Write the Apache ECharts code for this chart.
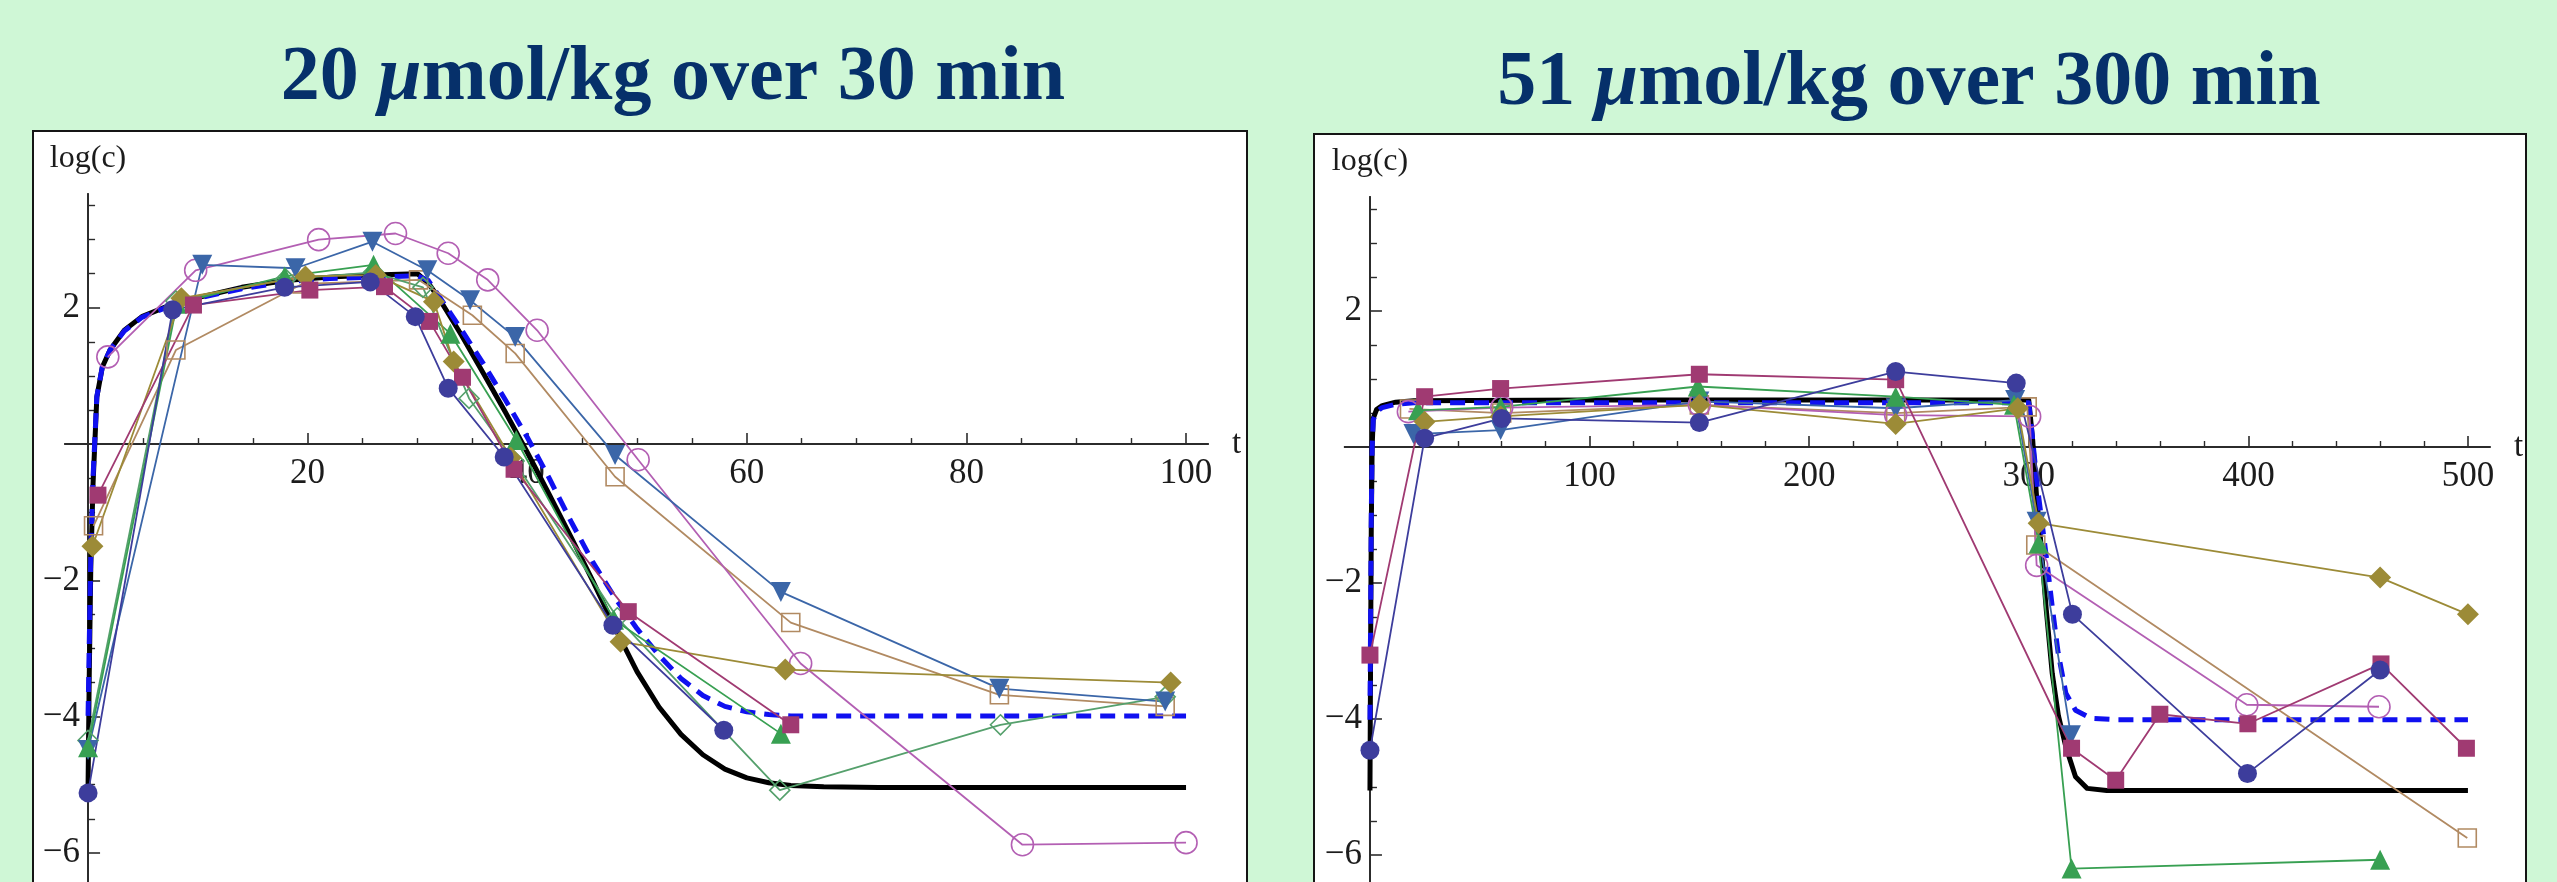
<!DOCTYPE html>
<html>
<head>
<meta charset="utf-8">
<script src="https://cdn.jsdelivr.net/npm/echarts@6/dist/echarts.min.js"></script>
<style>
html,body{margin:0;padding:0;background:#cff7d6;}
#c{width:2557px;height:882px;}
</style>
</head>
<body>
<div id="c"></div>
<script>
// ---------- titles / axis texts ----------
const leftTitle = ['20 ', 'μ', 'mol/kg over 30 min'];
const rightTitle = ['51 ', 'μ', 'mol/kg over 300 min'];
const yName = 'log(c)';
const xName = 't';

// ---------- ticks ----------
const yMajorTicks = [-6, -4, -2, 2];
const yMinorTicks = [-6.5, -5.5, -5, -4.5, -3.5, -3, -2.5, -1.5, -1, -0.5, 0.5, 1, 1.5, 2.5, 3, 3.5];
const leftXMajorTicks = [20, 40, 60, 80, 100];
const leftXMinorTicks = [5, 10, 15, 25, 30, 35, 45, 50, 55, 65, 70, 75, 85, 90, 95];
const rightXMajorTicks = [100, 200, 300, 400, 500];
const rightXMinorTicks = [20, 40, 60, 80, 120, 140, 160, 180, 220, 240, 260, 280, 320, 340, 360, 380, 420, 440, 460, 480];

// ---------- left panel data (t [min], log c) ----------
const L_filledCircle = [[0,-5.12],[7.7,1.97],[17.9,2.30],[25.7,2.38],[29.8,1.87],[32.8,0.82],[37.9,-0.19],[47.8,-2.66],[57.9,-4.20]];
const L_filledSquare = [[0.9,-0.75],[9.6,2.04],[20.2,2.26],[27.0,2.31],[31.1,1.80],[34.1,0.98],[38.8,-0.37],[49.2,-2.46],[64.0,-4.12]];
const L_filledDiamond = [[0.4,-1.5],[8.5,2.14],[19.8,2.46],[26.2,2.48],[31.5,2.09],[33.3,1.21],[38.5,-0.2],[48.5,-2.90],[63.5,-3.31],[98.6,-3.50]];
const L_triangleUp = [[0,-4.45],[8.1,2.06],[17.9,2.46],[26.0,2.63],[33.0,1.62],[39.0,0.06],[47.9,-2.58],[63.1,-4.25]];
const L_triangleDown = [[0,-4.49],[10.4,2.63],[18.9,2.58],[25.9,2.97],[30.9,2.55],[34.8,2.11],[38.9,1.57],[48.0,-0.16],[63.1,-2.17],[83.0,-3.59],[98.1,-3.78]];
const L_openCircle = [[1.8,1.28],[9.8,2.55],[21.0,3.00],[28.0,3.09],[32.8,2.80],[36.4,2.41],[40.9,1.67],[50.1,-0.23],[64.9,-3.22],[85.1,-5.88],[100.0,-5.85]];
const L_openSquare = [[0.5,-1.2],[8.0,1.38],[19.5,2.35],[30.1,2.41],[35.0,1.89],[38.9,1.33],[48.0,-0.48],[64.0,-2.62],[83.0,-3.68],[98.1,-3.85]];
const L_openDiamond = [[0,-4.35],[8.0,2.10],[18.0,2.42],[26.0,2.52],[30.5,2.30],[34.7,0.67],[38.8,-0.25],[48.2,-2.55],[63.0,-5.08],[83.1,-4.12],[98.1,-3.71]];
const L_modelSolid = [[0,-5.05],[0.1,-3.5],[0.25,-1.8],[0.45,-0.6],[0.8,0.69],[1.3,1.13],[2.0,1.38],[3.3,1.67],[4.9,1.87],[7.2,2.02],[10,2.15],[14,2.30],[18,2.40],[22,2.45],[26,2.48],[30,2.50],[31,2.36],[32,2.13],[34,1.60],[36,1.04],[38,0.47],[40,-0.12],[42,-0.74],[44,-1.37],[46,-2.02],[48,-2.70],[50,-3.34],[52,-3.86],[54,-4.26],[56,-4.56],[58,-4.77],[60,-4.90],[62,-4.97],[64,-5.01],[67,-5.03],[72,-5.04],[100,-5.04]];
const L_modelDashed = [[0,-3.99],[0.1,-3.0],[0.25,-1.6],[0.45,-0.5],[0.8,0.70],[1.3,1.13],[2.0,1.38],[3.3,1.66],[4.9,1.86],[7.2,2.01],[10,2.14],[14,2.28],[18,2.38],[22,2.43],[26,2.45],[30,2.47],[31,2.40],[32,2.16],[34,1.68],[36,1.18],[38,0.65],[40,0.10],[42,-0.50],[44,-1.14],[46,-1.74],[48,-2.26],[50,-2.71],[52,-3.10],[54,-3.44],[56,-3.69],[58,-3.85],[60,-3.93],[62,-3.97],[64,-3.99],[70,-3.99],[100,-3.99]];

// ---------- right panel data ----------
const R_filledCircle = [[0,-4.46],[24.9,0.13],[60,0.42],[150,0.36],[239.4,1.11],[294.3,0.94],[319.9,-2.46],[399.6,-4.80],[460,-3.28]];
const R_filledSquare = [[0,-3.06],[24.9,0.74],[59.5,0.86],[150,1.07],[239.4,0.99],[319.5,-4.43],[339.6,-4.90],[359.7,-3.93],[399.8,-4.07],[460.4,-3.19],[499.3,-4.43]];
const R_filledDiamond = [[24.9,0.37],[59.5,0.45],[150,0.62],[239.4,0.34],[295,0.57],[304.5,-1.12],[460,-1.92],[500,-2.46]];
const R_triangleUp = [[21.9,0.54],[59.5,0.59],[149.3,0.89],[239.4,0.74],[293.3,0.62],[304.5,-1.42],[319.5,-6.20],[460,-6.07]];
const R_triangleDown = [[19.8,0.19],[59.5,0.25],[150,0.67],[239.4,0.57],[293.8,0.69],[303.6,-1.10],[319.2,-4.24]];
const R_openCircle = [[17.5,0.52],[60,0.58],[150,0.62],[239.4,0.47],[300.4,0.45],[303.6,-1.74],[399.3,-3.79],[459.5,-3.82]];
const R_openSquare = [[18,0.56],[60,0.50],[150,0.62],[239.4,0.50],[299.3,0.59],[303.2,-1.44],[499.7,-5.75]];
const R_modelSolid = [[0,-5.05],[0.3,-3.0],[0.6,-1.2],[1.0,0.0],[1.5,0.42],[3,0.55],[5.6,0.61],[11.7,0.66],[20,0.68],[100,0.69],[200,0.69],[300,0.69],[301.8,0.10],[303.5,-0.70],[305.4,-1.37],[308,-2.40],[310.7,-3.33],[313.5,-3.95],[316.9,-4.41],[321.3,-4.85],[326.6,-5.02],[335.5,-5.05],[500,-5.05]];
const R_modelDashed = [[0,-4.01],[0.3,-2.5],[0.6,-1.0],[1.0,0.0],[1.5,0.40],[3,0.52],[5.6,0.58],[11.7,0.63],[20,0.65],[300,0.65],[301.5,0.20],[304,-0.60],[308,-1.61],[310.7,-2.35],[313.4,-3.03],[316.9,-3.62],[321.3,-3.87],[328.4,-3.99],[340,-4.01],[500,-4.01]];

// ---------- styling ----------
const FONT = '"Liberation Serif", "Times New Roman", serif';
const AX = '#2b2b2b';
const LBL = '#1c1c1c';
const C = {
  circle: '#3d3d9c', square: '#a03a72', diamond: '#9c8b37', triUp: '#38a052',
  triDown: '#3b66a8', oCircle: '#b35fb3', oSquare: '#b18a62', oDiamond: '#55a06c'
};
const fmt = v => (v < 0 ? '\u2212' + Math.abs(v) : String(v));

// axes that draw lines + ticks at the zero crossing
function xAxesLines(grid, min, max, major, minor, yIdx) {
  return [{
    type: 'value', gridIndex: grid, min: min, max: max, position: 'bottom',
    axisLine: { show: true, onZero: true, onZeroAxisIndex: yIdx, lineStyle: { color: AX, width: 1.8 } },
    axisTick: { show: true, inside: true, length: 11, customValues: major, lineStyle: { color: AX, width: 1.6 } },
    axisLabel: { show: false }, splitLine: { show: false },
    name: xName, nameLocation: 'end', nameGap: 24,
    nameTextStyle: { fontFamily: FONT, fontSize: 33, color: LBL }
  }, {
    type: 'value', gridIndex: grid, min: min, max: max, position: 'bottom',
    axisLine: { show: true, onZero: true, onZeroAxisIndex: yIdx, lineStyle: { color: AX, width: 1.8 } },
    axisTick: { show: true, inside: true, length: 6, customValues: minor, lineStyle: { color: AX, width: 1.4 } },
    axisLabel: { show: false }, splitLine: { show: false }
  }];
}
function yAxesLines(grid, min, max, xIdx) {
  return [{
    type: 'value', gridIndex: grid, min: min, max: max, position: 'left',
    axisLine: { show: true, onZero: true, onZeroAxisIndex: xIdx, lineStyle: { color: AX, width: 1.8 } },
    axisTick: { show: true, inside: true, length: 12, customValues: yMajorTicks, lineStyle: { color: AX, width: 1.6 } },
    axisLabel: { show: false }, splitLine: { show: false },
    name: yName, nameLocation: 'end', nameGap: 19,
    nameTextStyle: { fontFamily: FONT, fontSize: 32, color: LBL, align: 'center' }
  }, {
    type: 'value', gridIndex: grid, min: min, max: max, position: 'left',
    axisLine: { show: true, onZero: true, onZeroAxisIndex: xIdx, lineStyle: { color: AX, width: 1.8 } },
    axisTick: { show: true, inside: true, length: 7, customValues: yMinorTicks, lineStyle: { color: AX, width: 1.4 } },
    axisLabel: { show: false }, splitLine: { show: false }
  }];
}
// label-only axes placed on grids whose edges sit on the zero lines
function xLabelAxis(grid, min, max, vals) {
  return {
    type: 'value', gridIndex: grid, min: min, max: max, position: 'bottom',
    axisLine: { show: false, onZero: false }, axisTick: { show: false }, splitLine: { show: false },
    axisLabel: { show: true, customValues: vals, margin: 12, fontFamily: FONT, fontSize: 35, color: LBL, formatter: fmt }
  };
}
function yLabelAxis(grid, min, max, vals) {
  return {
    type: 'value', gridIndex: grid, min: min, max: max, position: 'left',
    axisLine: { show: false, onZero: false }, axisTick: { show: false }, splitLine: { show: false },
    axisLabel: { show: true, customValues: vals, margin: 8, fontFamily: FONT, fontSize: 35, color: LBL, formatter: fmt }
  };
}
function dummy(grid, min, max) {
  return { type: 'value', gridIndex: grid, min: min, max: max, show: false, axisLine: { onZero: false } };
}

function pts(data, color, symbol, size, open, xi, yi, rot) {
  return {
    type: 'line', data: data, xAxisIndex: xi, yAxisIndex: yi,
    symbol: symbol, symbolSize: size, symbolRotate: rot || 0, showSymbol: true,
    lineStyle: { color: color, width: 1.8 },
    itemStyle: open ? { color: 'rgba(255,255,255,0)', borderColor: color, borderWidth: 1.6 }
                    : { color: color, borderWidth: 0 },
    silent: true, animation: false, z: 4
  };
}
function model(data, dashed, xi, yi) {
  return {
    type: 'line', data: data, xAxisIndex: xi, yAxisIndex: yi, showSymbol: false, symbol: 'none',
    smooth: false,
    lineStyle: dashed ? { color: '#1010f0', width: 5, type: [15, 9], join: 'round' }
                      : { color: '#000000', width: 5, join: 'round' },
    silent: true, animation: false, z: 3
  };
}

const series = [
  model(L_modelSolid, false, 0, 0), model(L_modelDashed, true, 0, 0),
  pts(L_openSquare, C.oSquare, 'rect', 18, true, 0, 0),
  pts(L_openDiamond, C.oDiamond, 'diamond', 20, true, 0, 0),
  pts(L_openCircle, C.oCircle, 'circle', 22, true, 0, 0),
  pts(L_triangleDown, C.triDown, 'triangle', 20, false, 0, 0, 180),
  pts(L_triangleUp, C.triUp, 'triangle', 20, false, 0, 0),
  pts(L_filledDiamond, C.diamond, 'diamond', 22, false, 0, 0),
  pts(L_filledSquare, C.square, 'rect', 17, false, 0, 0),
  pts(L_filledCircle, C.circle, 'circle', 19, false, 0, 0),

  model(R_modelSolid, false, 2, 2), model(R_modelDashed, true, 2, 2),
  pts(R_openSquare, C.oSquare, 'rect', 18, true, 2, 2),
  pts(R_openCircle, C.oCircle, 'circle', 22, true, 2, 2),
  pts(R_triangleDown, C.triDown, 'triangle', 20, false, 2, 2, 180),
  pts(R_triangleUp, C.triUp, 'triangle', 20, false, 2, 2),
  pts(R_filledDiamond, C.diamond, 'diamond', 22, false, 2, 2),
  pts(R_filledSquare, C.square, 'rect', 17, false, 2, 2),
  pts(R_filledCircle, C.circle, 'circle', 19, false, 2, 2)
];

function titleText(parts, cx, cy) {
  return {
    type: 'text', x: cx, y: cy, z: 20, silent: true,
    style: {
      text: '{b|' + parts[0] + '}{i|' + parts[1] + '}{b|' + parts[2] + '}',
      align: 'center', verticalAlign: 'middle',
      rich: {
        b: { fontFamily: FONT, fontWeight: 'bold', fontSize: 78, fill: '#06306a' },
        i: { fontFamily: FONT, fontWeight: 'bold', fontStyle: 'italic', fontSize: 78, fill: '#06306a' }
      }
    }
  };
}

const G = { containLabel: false, outerBoundsMode: 'none', show: false };
const chart = echarts.init(document.getElementById('c'), null, { renderer: 'canvas', width: 2557, height: 882 });
chart.setOption({
  backgroundColor: '#cff7d6',
  animation: false,
  graphic: [
    { type: 'rect', z: -5, silent: true, shape: { x: 33, y: 131, width: 1214, height: 800 },
      style: { fill: '#ffffff', stroke: '#151515', lineWidth: 2 } },
    { type: 'rect', z: -5, silent: true, shape: { x: 1314, y: 134, width: 1212, height: 800 },
      style: { fill: '#ffffff', stroke: '#151515', lineWidth: 2 } },
    titleText(leftTitle, 673, 79),
    titleText(rightTitle, 1909, 84)
  ],
  grid: [
    Object.assign({ left: 65, top: 194, width: 1143, height: 727 }, G),
    Object.assign({ left: 1344.7, top: 196.8, width: 1145.2, height: 726.2 }, G),
    Object.assign({ left: 88, top: 194, width: 1098, height: 250 }, G),
    Object.assign({ left: 88, top: 194, width: 1098, height: 727 }, G),
    Object.assign({ left: 1370, top: 196.8, width: 1098, height: 250.2 }, G),
    Object.assign({ left: 1370, top: 196.8, width: 1098, height: 726.2 }, G)
  ],
  xAxis: [].concat(
    xAxesLines(0, -2.1, 102, leftXMajorTicks, leftXMinorTicks, 0),
    xAxesLines(1, -11.5, 510, rightXMajorTicks, rightXMinorTicks, 2),
    [xLabelAxis(2, 0, 100, leftXMajorTicks)],
    [dummy(3, 0, 100)],
    [xLabelAxis(4, 0, 500, rightXMajorTicks)],
    [dummy(5, 0, 500)]
  ),
  yAxis: [].concat(
    yAxesLines(0, -7, 3.67, 0),
    yAxesLines(1, -7, 3.68, 2),
    [dummy(2, 0, 3.67)],
    [yLabelAxis(3, -7, 3.67, yMajorTicks)],
    [dummy(4, 0, 3.68)],
    [yLabelAxis(5, -7, 3.68, yMajorTicks)]
  ),
  tooltip: { show: false },
  legend: { show: false },
  series: series
});
</script>
</body>
</html>
